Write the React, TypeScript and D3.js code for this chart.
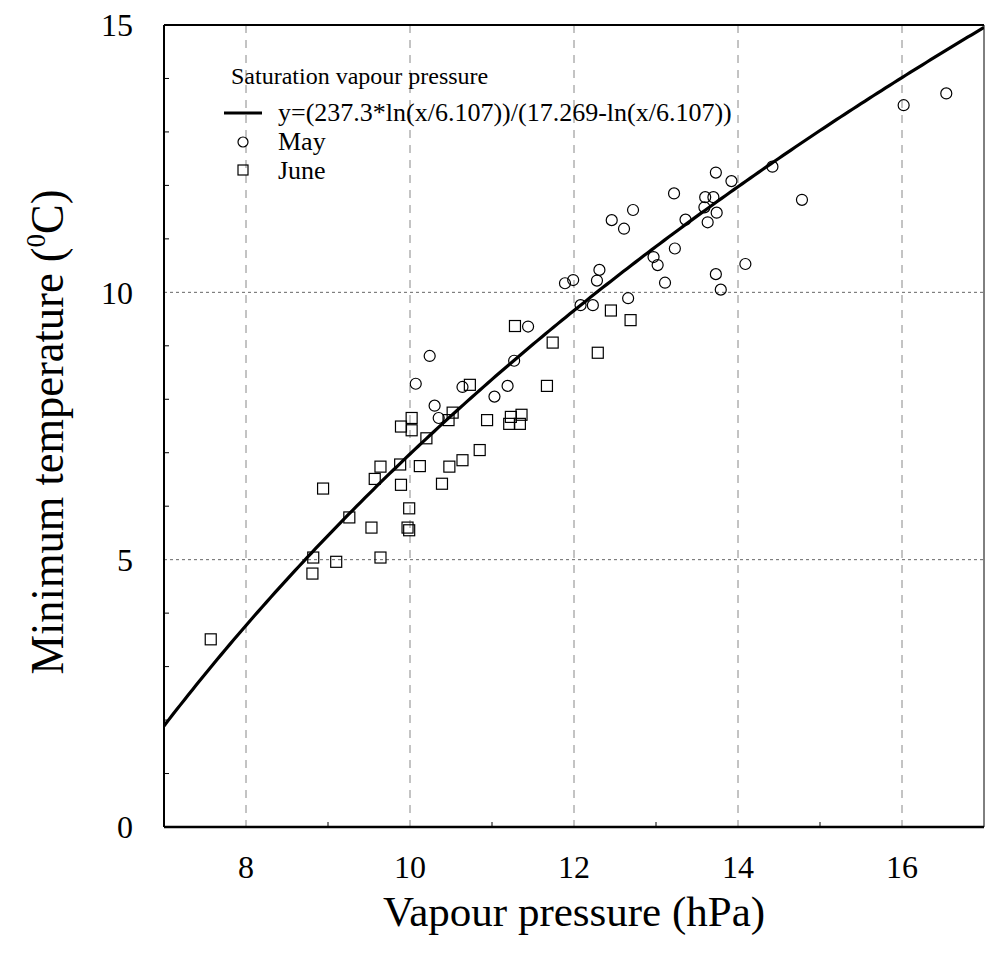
import React from "react";
import * as d3 from "d3";

const xTicks = [8, 10, 12, 14, 16];
const yTicks = [0, 5, 10, 15];
const xMinor = [9, 11, 13, 15];
const yMinor = [1, 2, 3, 4, 6, 7, 8, 9, 11, 12, 13, 14];
const xGrid = [8, 10, 12, 14, 16];
const yGrid = [5, 10];

const mayX = [10.07, 10.24, 10.30, 10.35, 10.64, 11.03, 11.19, 11.27, 11.44, 11.89, 11.99, 12.08, 12.23, 12.28, 12.31, 12.66, 12.46, 12.61, 12.72, 13.22, 13.36, 12.97, 13.02, 13.11, 13.23, 13.60, 13.70, 13.59, 13.74, 13.63, 13.73, 13.92, 13.73, 13.79, 14.09, 14.42, 14.78, 16.02, 16.54];
const mayY = [8.29, 8.81, 7.88, 7.65, 8.23, 8.05, 8.25, 8.72, 9.36, 10.17, 10.23, 9.76, 9.76, 10.22, 10.42, 9.89, 11.35, 11.19, 11.54, 11.85, 11.36, 10.66, 10.51, 10.18, 10.82, 11.78, 11.78, 11.59, 11.49, 11.31, 12.24, 12.08, 10.34, 10.05, 10.53, 12.35, 11.73, 13.50, 13.72];

const juneX = [7.57, 8.82, 8.81, 9.10, 9.64, 8.94, 9.26, 9.53, 9.99, 9.97, 9.99, 9.57, 9.64, 9.88, 9.89, 10.12, 10.39, 10.48, 10.64, 10.85, 10.20, 9.89, 10.02, 10.02, 10.47, 10.52, 10.73, 10.94, 11.23, 11.36, 11.21, 11.34, 11.28, 11.74, 11.67, 12.29, 12.45, 12.69];
const juneY = [3.51, 5.04, 4.74, 4.96, 5.04, 6.33, 5.79, 5.60, 5.55, 5.60, 5.96, 6.51, 6.74, 6.78, 6.40, 6.75, 6.42, 6.74, 6.86, 7.05, 7.27, 7.49, 7.42, 7.65, 7.61, 7.75, 8.27, 7.61, 7.67, 7.71, 7.54, 7.54, 9.37, 9.06, 8.25, 8.87, 9.66, 9.48];

const satVap = (x: number) => (237.3 * Math.log(x / 6.107)) / (17.269 - Math.log(x / 6.107));

const W = 986;
const H = 966;
const left = 164;
const right = 984;
const top = 25;
const bottom = 827;
const FONT = "'Liberation Serif', 'Times New Roman', serif";

export default function App() {
  const x = d3.scaleLinear().domain([7, 17]).range([left, right]);
  const y = d3.scaleLinear().domain([0, 15]).range([bottom, top]);
  const curvePts = d3.range(7, 17.0001, 0.05).map((v) => [v, satVap(v)] as [number, number]);
  const line = d3
    .line<[number, number]>()
    .x((d) => x(d[0]))
    .y((d) => y(d[1]));

  const clipId = "plotclip";

  return (
    <svg
      width={W}
      height={H}
      style={{ position: "absolute", left: 0, top: 0, background: "#fff" }}
      fontFamily={FONT}
    >
      <defs>
        <clipPath id={clipId}>
          <rect x={left} y={top} width={right - left} height={bottom - top} />
        </clipPath>
      </defs>
      <rect x={0} y={0} width={W} height={H} fill="#fff" />

      {/* grid */}
      {xGrid.map((v) => (
        <line
          key={"gx" + v}
          x1={x(v)}
          x2={x(v)}
          y1={top}
          y2={bottom}
          stroke="#888"
          strokeWidth={1}
          strokeDasharray="8,7"
        />
      ))}
      {yGrid.map((v) => (
        <line
          key={"gy" + v}
          x1={left}
          x2={right}
          y1={y(v)}
          y2={y(v)}
          stroke="#666"
          strokeWidth={1}
          strokeDasharray="3,3"
        />
      ))}

      {/* minor ticks */}
      {yMinor.map((v) => (
        <line key={"my" + v} x1={left} x2={left + 5} y1={y(v)} y2={y(v)} stroke="#000" strokeWidth={1} />
      ))}
      {xMinor.map((v) => (
        <line key={"mx" + v} x1={x(v)} x2={x(v)} y1={bottom} y2={bottom - 5} stroke="#000" strokeWidth={1} />
      ))}

      {/* frame */}
      <line x1={left} x2={right} y1={top} y2={top} stroke="#000" strokeWidth={2} />
      <line x1={left} x2={right} y1={bottom} y2={bottom} stroke="#000" strokeWidth={2.5} />
      <line x1={left} x2={left} y1={top} y2={bottom} stroke="#000" strokeWidth={2} />
      <line x1={right} x2={right} y1={top} y2={bottom} stroke="#000" strokeWidth={1} />

      {/* curve */}
      <path d={line(curvePts) || ""} fill="none" stroke="#000" strokeWidth={3.2} clipPath={`url(#${clipId})`} />

      {/* May circles */}
      {mayX.map((v, i) => (
        <circle key={"m" + i} cx={x(v)} cy={y(mayY[i])} r={5.5} fill="none" stroke="#000" strokeWidth={1.2} />
      ))}
      {/* June squares */}
      {juneX.map((v, i) => (
        <rect
          key={"j" + i}
          x={x(v) - 5.5}
          y={y(juneY[i]) - 5.5}
          width={11}
          height={11}
          fill="none"
          stroke="#000"
          strokeWidth={1.2}
        />
      ))}

      {/* tick labels */}
      {xTicks.map((v) => (
        <text key={"tx" + v} x={x(v)} y={878} textAnchor="middle" fontSize={32} fill="#000">
          {v}
        </text>
      ))}
      {yTicks.map((v) => (
        <text key={"ty" + v} x={133} y={y(v)} dy="0.35em" textAnchor="end" fontSize={32} fill="#000">
          {v}
        </text>
      ))}

      {/* axis titles */}
      <text x={(left + right) / 2} y={926} textAnchor="middle" fontSize={43} fill="#000">
        Vapour pressure (hPa)
      </text>
      <text
        transform={`translate(63, 432) rotate(-90)`}
        textAnchor="middle"
        fontSize={46}
        fill="#000"
        textLength={485}
        lengthAdjust="spacingAndGlyphs"
      >
        Minimum temperature (<tspan fontSize={28} dy={-18}>0</tspan>
        <tspan dy={18}>C)</tspan>
      </text>

      {/* legend */}
      <text x={231} y={84} fontSize={24} fill="#000">
        Saturation vapour pressure
      </text>
      <line x1={224} x2={262} y1={113} y2={113} stroke="#000" strokeWidth={3} />
      <text x={278} y={121} fontSize={26} fill="#000">
        y=(237.3*ln(x/6.107))/(17.269-ln(x/6.107))
      </text>
      <circle cx={243} cy={142} r={5} fill="none" stroke="#000" strokeWidth={1.2} />
      <text x={278} y={150} fontSize={26} fill="#000">
        May
      </text>
      <rect x={238} y={165} width={10} height={10} fill="none" stroke="#000" strokeWidth={1.2} />
      <text x={278} y={179} fontSize={26} fill="#000">
        June
      </text>
    </svg>
  );
}
